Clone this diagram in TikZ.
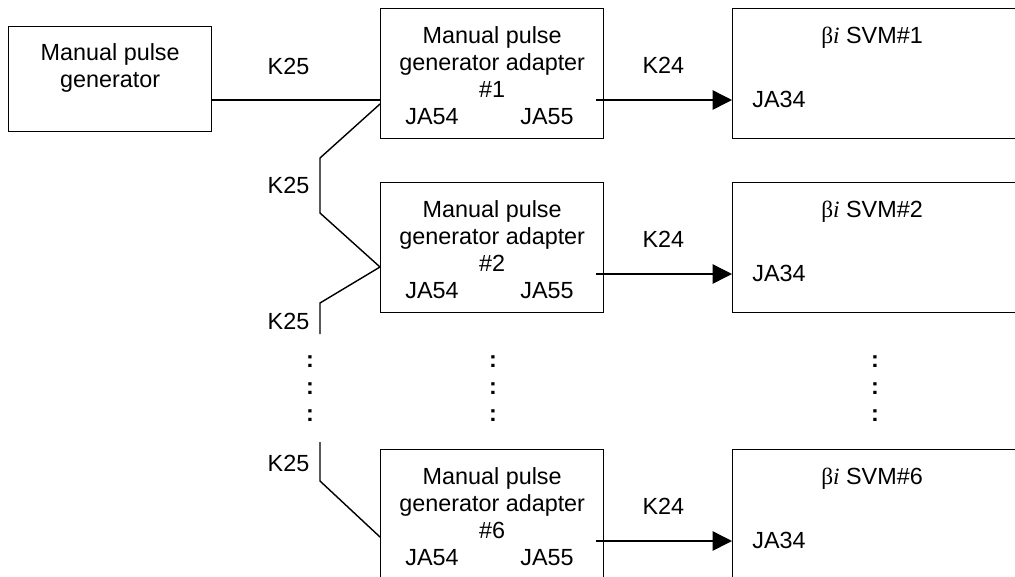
\documentclass[tikz,border=0pt]{standalone}
\usepackage{fontspec}
\setmainfont{Liberation Sans}
\newfontfamily\grkfont{Liberation Serif}
\usetikzlibrary{positioning, calc, arrows.meta}

\begin{document}
\begin{tikzpicture}[
        x=0.02cm, y=-0.02cm,
        font=\fontsize{13.3}{15.3}\selectfont,
        box/.style={rectangle, draw, line width=0.8pt, inner sep=0pt, anchor=north west},
        adbox/.style={box, minimum width=4.46cm, minimum height=2.6cm},
        svmbox/.style={box, minimum width=6.2cm, minimum height=2.6cm},
        txt/.style={inner sep=0pt, anchor=base},
        wire/.style={line width=0.8pt},
        arrow/.style={wire, -{Triangle[length=11pt, width=11pt]}}
    ]
    \useasboundingbox (0,0) rectangle (1015,576);

    \node[box, minimum width=4.06cm, minimum height=2.1cm] (GEN) at (8,26) {};
    \node[txt] at ($(GEN.north)+(0,34)$) {Manual pulse};
    \node[txt] at ($(GEN.north)+(0,61)$) {generator};

    \foreach \n/\yy in {1/8, 2/182, 6/449} {
        \node[adbox] (AD\n) at (380,\yy) {};
        \node[svmbox] (SVM\n) at (732,\yy) {};
        \node[txt] at ($(AD\n.north)+(0,35)$) {Manual pulse};
        \node[txt] at ($(AD\n.north)+(0,62)$) {generator adapter};
        \node[txt] at ($(AD\n.north)+(0,89)$) {\#\n};
        \node[txt] at ($(AD\n.north west)+(52,116)$) {JA54};
        \node[txt] at ($(AD\n.north west)+(167,116)$) {JA55};
        \node[txt] at ($(SVM\n.north west)+(140,35)$) {{\grkfont β\itshape i} SVM\#\n};
        \node[txt] at ($(SVM\n.north west)+(47,99)$) {JA34};
        \node[txt] at ($(AD\n.north east)+(59,65)$) {K24};
        \draw[arrow] ($(AD\n.north east)+(-8,92)$) -- ($(SVM\n.north west)+(0,92)$);
    }

    % K25 cable chain
    \coordinate (J1) at ($(AD1.north west)+(0,92)$);
    \draw[wire] (GEN.east |- J1) -- (J1);
    \draw[wire] ($(AD1.north west)+(0,96)$) -- ++(-60,54) -- ++(0,55)
        -- ($(AD2.north west)+(0,85)$) -- ++(-60,36) -- ++(0,31);
    \draw[wire] ($(AD6.north west)+(-60,-7)$) -- ++(0,39) -- ($(AD6.north west)+(0,88)$);
    \foreach \yy in {74, 193, 329, 471}
        \node[txt] at (288.5,\yy) {K25};

    % continuation marks
    \foreach \xx in {310, 493, 875}
        \foreach \yy in {367, 394, 421}
            \node[txt, font=\fontsize{13.3}{15.3}\selectfont\bfseries] at (\xx,\yy) {:};
\end{tikzpicture}
\end{document}
